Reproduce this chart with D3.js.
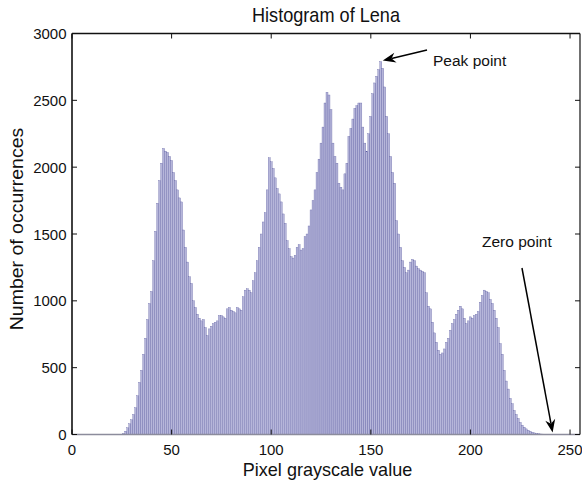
<!DOCTYPE html>
<html>
<head>
<meta charset="utf-8">
<script src="https://cdn.jsdelivr.net/npm/d3@7"></script>
<style>
  html, body { margin: 0; padding: 0; background: #fff; }
  svg { display: block; }
  text { font-family: "Liberation Sans", Arial, Helvetica, sans-serif; fill: #111; }
</style>
</head>
<body>
<svg id="chart" width="582" height="481"></svg>
<script>
// Gray levels 0..255 of the image
const grayLevels = d3.range(0, 256);

// Number of pixels at each gray level
const pixelCounts = [
  0, 0, 0, 0, 0, 0, 0, 0, 0, 0, 0, 0, 0, 0, 0, 0, 0, 0, 0, 0, 0, 0, 0, 0, 0,
  2, 8, 25, 50, 80, 110, 150, 200, 290, 390, 480, 600, 720, 860, 980,
  1070, 1300, 1520, 1730, 1900, 2030, 2140, 2120, 2110, 2080,
  2050, 1960, 1900, 1830, 1770, 1740, 1530, 1400, 1290, 1180,
  1130, 1000, 950, 900, 870, 850, 860, 800, 740, 790,
  810, 830, 840, 850, 890, 890, 880, 870, 940, 950,
  930, 920, 910, 950, 940, 930, 1030, 1080, 1090, 1080,
  1060, 1150, 1210, 1300, 1400, 1500, 1590, 1660, 1830, 2070,
  2040, 1990, 1920, 1840, 1800, 1740, 1650, 1580, 1450, 1390,
  1330, 1320, 1340, 1400, 1420, 1380, 1390, 1480, 1500, 1560,
  1680, 1750, 1830, 1960, 2060, 2180, 2300, 2480, 2560, 2540,
  2430, 2180, 2080, 2030, 1880, 1850, 1830, 1950, 2030, 2230,
  2290, 2360, 2440, 2460, 2480, 2480, 2300, 2180, 2120, 2250,
  2380, 2550, 2630, 2680, 2730, 2790, 2740, 2600, 2380, 2250,
  2080, 1960, 1880, 1600, 1500, 1400, 1300, 1250, 1210, 1230,
  1290, 1310, 1300, 1260, 1240, 1230, 1220, 1210, 1060, 960,
  940, 840, 760, 690, 630, 600, 610, 640, 690, 720,
  780, 830, 860, 900, 930, 960, 940, 870, 830, 850,
  880, 870, 890, 900, 920, 990, 1040, 1080, 1070, 1060,
  1010, 980, 930, 870, 800, 680, 600, 480, 400, 340,
  270, 230, 180, 150, 120, 90, 70, 55, 42, 32,
  24, 17, 12, 8, 6, 4, 3, 2,
  0, 0, 0, 0, 0, 0, 0, 0, 0, 0, 0, 0, 0, 0, 0, 0, 0, 0
];

const xTicks = [0, 50, 100, 150, 200, 250];
const yTicks = [0, 500, 1000, 1500, 2000, 2500, 3000];

const titleText = "Histogram of Lena";
const xLabelText = "Pixel grayscale value";
const yLabelText = "Number of occurrences";

const peakNote = { text: "Peak point", level: 155 };
const zeroNote = { text: "Zero point", level: 240 };

const svg = d3.select("#chart");
const plot = { left: 72, right: 580, top: 33.5, bottom: 434.5 };

const x = d3.scaleLinear().domain([0, 255]).range([plot.left, plot.right]);
const y = d3.scaleLinear().domain([0, 3000]).range([plot.bottom, plot.top]);

svg.append("defs").append("clipPath").attr("id", "plotClip")
  .append("rect")
  .attr("x", plot.left).attr("y", plot.top)
  .attr("width", plot.right - plot.left).attr("height", plot.bottom - plot.top);

// Histogram bars, one per gray level
const barW = x(1) - x(0);
svg.append("g").attr("clip-path", "url(#plotClip)")
  .selectAll("rect")
  .data(grayLevels.filter(g => pixelCounts[g] > 0))
  .join("rect")
  .attr("x", g => x(g - 0.5))
  .attr("width", barW)
  .attr("y", g => y(pixelCounts[g]))
  .attr("height", g => y(0) - y(pixelCounts[g]))
  .attr("fill", "#b6b6da")
  .attr("stroke", "#5a5aa0")
  .attr("stroke-width", 0.32);

// Baseline formed by the empty bins
svg.append("line")
  .attr("x1", plot.left).attr("x2", plot.right)
  .attr("y1", y(0)).attr("y2", y(0))
  .attr("stroke", "#8c8c9c").attr("stroke-width", 1.6);

// Frame
const frame = svg.append("g").attr("fill", "none").attr("stroke", "#111").attr("stroke-width", 1.6);
frame.append("line").attr("x1", plot.left).attr("x2", plot.left).attr("y1", plot.top).attr("y2", plot.bottom);
frame.append("line").attr("x1", plot.left).attr("x2", plot.right).attr("y1", plot.top).attr("y2", plot.top);
frame.append("line").attr("x1", plot.right).attr("x2", plot.right).attr("y1", plot.top).attr("y2", plot.bottom)
  .attr("stroke-width", 1.2);

// Inward ticks on all four sides
const tickLen = 5;
const ticks = svg.append("g").attr("stroke", "#111").attr("stroke-width", 1);
xTicks.forEach(t => {
  ticks.append("line").attr("x1", x(t)).attr("x2", x(t)).attr("y1", plot.bottom).attr("y2", plot.bottom - tickLen);
  ticks.append("line").attr("x1", x(t)).attr("x2", x(t)).attr("y1", plot.top).attr("y2", plot.top + tickLen);
});
yTicks.forEach(t => {
  ticks.append("line").attr("x1", plot.left).attr("x2", plot.left + tickLen).attr("y1", y(t)).attr("y2", y(t));
  ticks.append("line").attr("x1", plot.right).attr("x2", plot.right - tickLen).attr("y1", y(t)).attr("y2", y(t));
});

// Tick labels
svg.append("g").selectAll("text").data(xTicks).join("text")
  .attr("x", d => x(d)).attr("y", 454.5)
  .attr("text-anchor", "middle").attr("font-size", 15)
  .text(d => d);
svg.append("g").selectAll("text").data(yTicks).join("text")
  .attr("x", 66.5).attr("y", d => y(d) + 5.5)
  .attr("text-anchor", "end").attr("font-size", 15)
  .text(d => d);

// Title and axis labels
svg.append("g").attr("transform", `translate(${(plot.left + plot.right) / 2},21.5) scale(0.93,1)`)
  .append("text").attr("text-anchor", "middle").attr("font-size", 19.5).text(titleText);
svg.append("g").attr("transform", `translate(327.5,475.5) scale(0.95,1)`)
  .append("text").attr("text-anchor", "middle").attr("font-size", 19).text(xLabelText);
svg.append("g").attr("transform", `translate(23,229) rotate(-90) scale(1,0.93)`)
  .append("text").attr("text-anchor", "middle").attr("font-size", 19.5).text(yLabelText);

// Annotations with arrows
function arrow(x1, y1, x2, y2) {
  const ang = Math.atan2(y2 - y1, x2 - x1);
  const L = 13, W = 5, back = 9;
  const g = svg.append("g");
  const bx = x2 - back * Math.cos(ang), by = y2 - back * Math.sin(ang);
  g.append("line").attr("x1", x1).attr("y1", y1).attr("x2", bx).attr("y2", by)
    .attr("stroke", "#000").attr("stroke-width", 1.5);
  const px = -Math.sin(ang), py = Math.cos(ang);
  const ex = x2 - L * Math.cos(ang), ey = y2 - L * Math.sin(ang);
  g.append("path")
    .attr("d", `M${x2},${y2} L${ex + W * px},${ey + W * py} L${bx},${by} L${ex - W * px},${ey - W * py} Z`)
    .attr("fill", "#000");
}

arrow(427, 50, x(peakNote.level) + 2, y(pixelCounts[peakNote.level]) - 1);
svg.append("text").attr("x", 433).attr("y", 65.5).attr("font-size", 15.5).text(peakNote.text);

arrow(522, 268, x(zeroNote.level) + 2.5, y(0) - 2);
svg.append("text").attr("x", 482).attr("y", 246.5).attr("font-size", 15.5).text(zeroNote.text);
</script>
</body>
</html>
